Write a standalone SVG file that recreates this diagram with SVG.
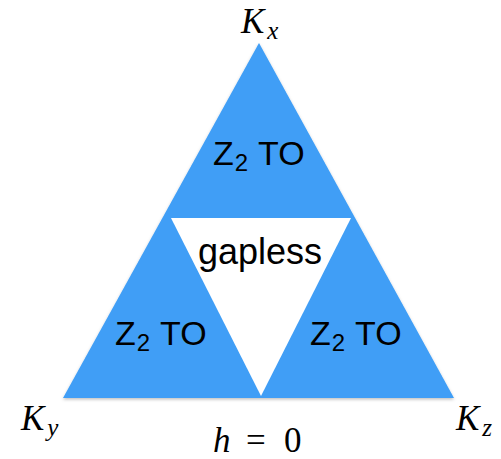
<svg xmlns="http://www.w3.org/2000/svg" width="501" height="459" viewBox="0 0 501 459">
<defs>
<style>
.lbl{font-family:"Liberation Sans",Arial,sans-serif;fill:#000;}
.math{font-family:"Liberation Serif","Times New Roman",serif;fill:#000;}
.it{font-style:italic;}
</style>
<filter id="sh" x="-5%" y="-5%" width="110%" height="115%">
<feDropShadow dx="0" dy="1.5" stdDeviation="1.5" flood-color="#000" flood-opacity="0.25"/>
</filter>
</defs>
<rect width="501" height="459" fill="#fff"/>
<g id="triangle">
<polygon points="259,43 454,398 63,398" fill="#3f9ef6" filter="url(#sh)"/>
<polygon id="gapless-region" points="171,218 351,218 261,396" fill="#fff"/>
</g>
<g id="top-phase"><text class="lbl" x="213" y="165" font-size="34">Z<tspan font-size="24" dx="1" dy="6">2</tspan><tspan dy="-6" dx="1"> TO</tspan></text></g>
<g id="gapless"><text class="lbl" x="260" y="264" font-size="36" text-anchor="middle">gapless</text></g>
<g id="left-phase"><text class="lbl" x="115" y="345" font-size="34">Z<tspan font-size="24" dx="1" dy="6">2</tspan><tspan dy="-6" dx="1"> TO</tspan></text></g>
<g id="right-phase"><text class="lbl" x="310" y="345" font-size="34">Z<tspan font-size="24" dx="1" dy="6">2</tspan><tspan dy="-6" dx="1"> TO</tspan></text></g>
<g id="Kx"><text class="math it" x="241" y="33" font-size="35">K<tspan font-size="25" dx="3" dy="6">x</tspan></text></g>
<g id="Ky"><text class="math it" x="21" y="430" font-size="35">K<tspan font-size="25" dx="3" dy="6">y</tspan></text></g>
<g id="Kz"><text class="math it" x="456" y="430" font-size="35">K<tspan font-size="25" dx="3" dy="6">z</tspan></text></g>
<g id="h0"><text class="math" y="452" font-size="35"><tspan class="it" x="213">h</tspan><tspan x="246">=</tspan><tspan x="284">0</tspan></text></g>
</svg>
